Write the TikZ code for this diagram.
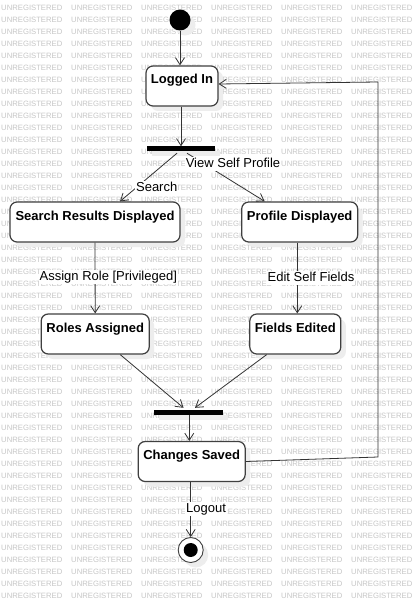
\documentclass[tikz,border=0pt]{standalone}
\usepackage{fontspec}
\setmainfont{Liberation Sans}
\usetikzlibrary{arrows.meta,shadows,calc}
\begin{document}
\begin{tikzpicture}[x=1pt,y=-1pt,
  wm/.style={font=\fontsize{7.7}{8}\selectfont, text=black!22, inner sep=0pt, anchor=west},
  shad/.style={general shadow={fill=black!7, shadow xshift=5pt, shadow yshift=-5pt}},
  state/.style={draw=black!75, line width=1.2pt, rounded corners=7pt, fill=white,
    font=\bfseries\fontsize{13}{15}\selectfont, minimum height=40pt,
    inner xsep=0pt, inner ysep=3pt, text height=15pt, text depth=19pt, shad},
  bar/.style={fill=black, draw=none, minimum height=5pt, inner sep=0pt, shad},
  edge/.style={draw=black!80, line width=0.8pt, -{Straight Barb[length=7pt,width=9pt]}},
  plain/.style={draw=black!80, line width=0.8pt},
  lbl/.style={fill=white, inner xsep=1pt, inner ysep=1pt, text height=9.5pt, text depth=2.5pt,
    font=\fontsize{13}{15}\selectfont}
]
\useasboundingbox (0,0) rectangle (419,604);
\fill[white] (0,0) rectangle (419,604);
\foreach \r in {0,...,49} {
  \foreach \c in {0,...,5} {
    \node[wm] (wm-\r-\c) at ({1+70*\c},{8+12*\r}) {UNREGISTERED};
  }
}
% states
\node[circle, fill=black, minimum size=21pt, inner sep=0pt, shad] (init) at (180,20) {};
\node[state, minimum width=72pt] (li) at (182,86) {Logged In};
\node[bar, minimum width=68pt] (f1) at (181,149) {};
\node[state, minimum width=170pt] (srd) at (95,222) {Search Results Displayed};
\node[state, minimum width=116pt] (pd) at (299.7,222) {Profile Displayed};
\node[state, minimum width=108pt] (ra) at (95.2,334) {Roles Assigned};
\node[state, minimum width=91pt] (fe) at (295.3,334) {Fields Edited};
\node[bar, minimum width=69pt] (f2) at (188.5,412.5) {};
\node[state, minimum width=107pt] (cs) at (191.7,461.5) {Changes Saved};
\node[circle, draw=black!75, line width=0.9pt, fill=white, minimum size=25pt, inner sep=0pt, shad] (fin) at (190.7,550) {};
\node[circle, fill=black, minimum size=14pt, inner sep=0pt] (finin) at (fin) {};
\coordinate (c1) at (378,457);
\coordinate (c2) at (378,82);
% connectors
\draw[edge] (init) -- (init |- li.north);
\draw[edge] (f1 |- li.south) -- (f1.north);
\draw[edge] ($(f1.south)+(-4,1.5)$) -- ($(srd.north)+(25,0)$);
\draw[edge] ($(f1.south)+(6,1.5)$) -- ($(pd.north)+(-35,0)$);
\draw[edge] (srd.south) -- (ra.north);
\draw[edge] ($(pd.south)+(-2.4,0)$) -- ($(fe.north)+(2,0)$);
\draw[edge] ($(ra.south)+(25,0)$) -- ($(f2.north)+(-5,-2)$);
\draw[edge] ($(fe.south)+(-28.6,0)$) -- ($(f2.north)+(6.5,-2)$);
\draw[edge] ($(f2.south)+(0.8,0)$) -- ($(cs.north)+(-2.4,0)$);
\draw[edge] (fin |- cs.south) -- (fin);
\draw[edge] (cs.east) -- (c1) -- (c2) -- ($(li.east)+(0,-2)$);
% labels
\node[lbl] (lsearch) at (156.7,187.5) {Search};
\node[lbl] (lview) at (233,164) {View Self Profile};
\node[lbl] (lassign) at (108.3,276.7) {Assign Role [Privileged]};
\node[lbl] (ledit) at (311,277.7) {Edit Self Fields};
\node[lbl] (llogout) at (206,509) {Logout};
\end{tikzpicture}
\end{document}
